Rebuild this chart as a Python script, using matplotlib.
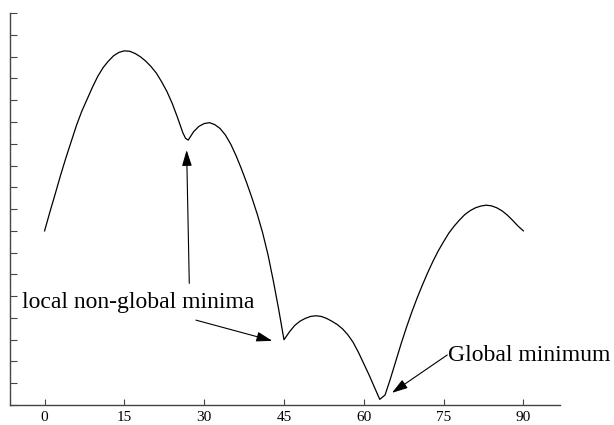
import matplotlib
matplotlib.use('Agg')
import matplotlib.pyplot as plt

plt.rcParams['font.family'] = ['Liberation Serif', 'DejaVu Serif']

# curve (x in degrees, y in tick units)
angle = [0, 1, 2, 3, 4, 5, 6, 7, 8, 9, 10, 11, 12, 13, 14, 15, 16, 17, 18, 19,
         20, 21, 22, 23, 24, 25, 26, 26.5, 27,
         28, 29, 30, 31, 32, 33, 34, 35, 36, 37, 38, 39, 40, 41, 42, 43, 44, 45,
         46, 47, 48, 49, 50, 51, 52, 53, 54, 55, 56, 57, 58, 59, 60, 61, 62, 63,
         64, 65, 66, 67, 68, 69, 70, 71, 72, 73, 74, 75, 76, 77, 78, 79,
         80, 81, 82, 83, 84, 85, 86, 87, 88, 89, 90]
value = [8.0, 8.87, 9.7, 10.55, 11.35, 12.1, 12.85, 13.5, 14.05, 14.6, 15.1, 15.5, 15.8, 16.05, 16.2, 16.27, 16.25, 16.15, 16.0, 15.8,
         15.55, 15.25, 14.85, 14.4, 13.85, 13.2, 12.5, 12.25, 12.17,
         12.55, 12.8, 12.93, 12.97, 12.88, 12.7, 12.4, 11.98, 11.45, 10.85, 10.2, 9.5, 8.75, 7.9, 6.9, 5.7, 4.4, 3.0,
         3.35, 3.65, 3.85, 3.98, 4.07, 4.1, 4.07, 3.98, 3.85, 3.7, 3.5, 3.23, 2.88, 2.42, 1.9, 1.38, 0.82, 0.26,
         0.46, 1.2, 2.0, 2.8, 3.55, 4.25, 4.9, 5.5, 6.07, 6.6, 7.08, 7.5, 7.9, 8.22, 8.5, 8.75,
         8.93, 9.06, 9.14, 9.18, 9.15, 9.06, 8.92, 8.72, 8.48, 8.22, 8.0]

xticks = [0, 15, 30, 45, 60, 75, 90]
yticks = list(range(0, 19))

# annotation arrows: (tail, tip)
arrows = [((27.2, 5.59), (26.7, 11.71)),
          ((28.45, 3.90), (42.8, 2.95)),
          ((75.7, 2.30), (65.3, 0.56))]

fig = plt.figure(figsize=(6.14, 4.25), dpi=100)
ax = fig.add_axes([0.0163, 0.047, 0.895, 0.922])

ax.plot(angle, value, color='black', linewidth=0.9)

ax.set_xlim(-6.5, 96.8)
ax.set_ylim(0, 18)
ax.set_xticks(xticks)
ax.set_yticks(yticks)
ax.set_yticklabels([])
ax.tick_params(axis='x', direction='in', length=4.5, width=0.8, labelsize=11, pad=4, color='#444444')
ax.tick_params(axis='y', direction='in', length=5, width=0.8, color='#444444')

for side in ['top', 'right']:
    ax.spines[side].set_visible(False)
for side in ['left', 'bottom']:
    ax.spines[side].set_color('#444444')
    ax.spines[side].set_linewidth(1.0)

for tail, tip in arrows:
    ax.annotate('', xy=tip, xytext=tail,
                arrowprops=dict(arrowstyle='-|>,head_length=0.8,head_width=0.25',
                                mutation_scale=12, color='black', lw=0.8,
                                shrinkA=0, shrinkB=0))

ax.text(-4.27, 4.45, 'local non-global minima', fontsize=17, va='baseline', ha='left')
ax.text(75.9, 2.03, 'Global minimum', fontsize=17, va='baseline', ha='left', clip_on=False)

fig.savefig('out.png', dpi=100)
